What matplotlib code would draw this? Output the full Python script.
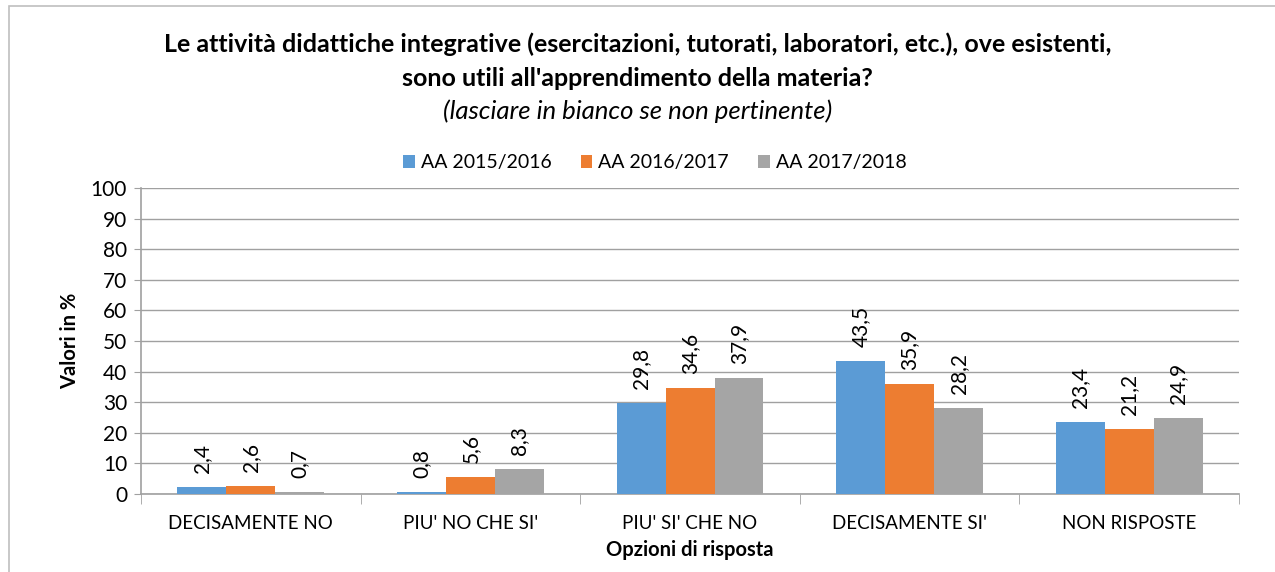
import numpy as np
import matplotlib.pyplot as plt
from matplotlib.patches import Rectangle

categories = ["DECISAMENTE NO", "PIU' NO CHE SI'", "PIU' SI' CHE NO", "DECISAMENTE SI'", "NON RISPOSTE"]
series_names = ["AA 2015/2016", "AA 2016/2017", "AA 2017/2018"]
aa_2015 = [2.4, 0.8, 29.8, 43.5, 23.4]
aa_2016 = [2.6, 5.6, 34.6, 35.9, 21.2]
aa_2017 = [0.7, 8.3, 37.9, 28.2, 24.9]
colors = ["#5B9BD5", "#ED7D31", "#A5A5A5"]
y_ticks = list(range(0, 101, 10))

plt.rcParams["font.family"] = ["Lato", "DejaVu Sans"]

fig = plt.figure(figsize=(12.75, 5.72), dpi=100)
ax = fig.add_axes([0.1106, 0.1364, 0.8612, 0.535])

x = np.arange(len(categories))
w = 0.223
for i, (vals, name, c) in enumerate(zip([aa_2015, aa_2016, aa_2017], series_names, colors)):
    pos = x + (i - 1) * w
    ax.bar(pos, vals, width=w, color=c, label=name, zorder=3)
    for px, v in zip(pos, vals):
        ax.annotate(f"{v:.1f}".replace(".", ","), (px, v), xytext=(0, 10),
                    textcoords="offset points", rotation=90, ha="center", va="bottom",
                    fontsize=15)

ax.set_xlim(-0.5, len(categories) - 0.5)
ax.set_ylim(0, 100)
ax.set_yticks(y_ticks)
ax.tick_params(axis="y", labelsize=15, length=5, color="#A0A0A0", pad=5)
ax.set_xticks(x)
ax.set_xticklabels(categories, fontsize=13.5)
ax.tick_params(axis="x", length=0, pad=15)
ax.set_xticks(np.arange(-0.5, len(categories)), minor=True)
ax.tick_params(axis="x", which="minor", length=7, color="#A0A0A0")
ax.grid(axis="y", color="#A0A0A0", linewidth=1, zorder=0)
for s in ["top", "right"]:
    ax.spines[s].set_visible(False)
for s in ["left", "bottom"]:
    ax.spines[s].set_color("#A0A0A0")
    ax.spines[s].set_linewidth(1.2)

ax.set_ylabel("Valori in %", fontsize=14.5, fontweight="bold", labelpad=8)
ax.set_xlabel("Opzioni di risposta", fontsize=14.5, fontweight="bold", labelpad=6)

fig.text(0.5, 0.893, "Le attività didattiche integrative (esercitazioni, tutorati, laboratori, etc.), ove esistenti,\nsono utili all'apprendimento della materia?",
         ha="center", va="center", fontsize=18, fontweight="bold", linespacing=1.55)
fig.text(0.5, 0.805, "(lasciare in bianco se non pertinente)", ha="center", va="center",
         fontsize=18.5, style="italic")

ax.legend(loc="center", bbox_to_anchor=(0.468, 1.082), ncol=3, frameon=False, fontsize=14,
          handlelength=0.6, handleheight=0.6, handletextpad=0.3, columnspacing=1.5)

fig.patches.append(Rectangle((9 / 1275, -0.1), 1.2, 1 - 6 / 572 + 0.1, transform=fig.transFigure,
                             fill=False, edgecolor="#BFBFBF", linewidth=1.2))

fig.savefig("out.png", dpi=100)
